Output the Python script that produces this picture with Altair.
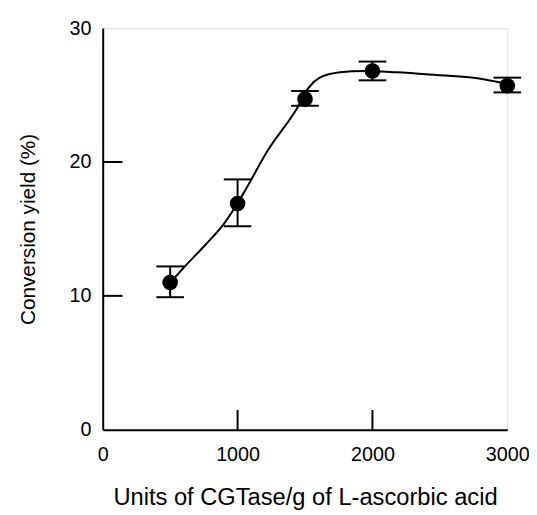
import altair as alt
import pandas as pd

# measured data
units = [500, 1000, 1500, 2000, 3000]
yield_mean = [11.0, 16.9, 24.7, 26.8, 25.7]
yield_low = [9.9, 15.2, 24.2, 26.1, 25.2]
yield_high = [12.2, 18.7, 25.3, 27.5, 26.3]

# fitted curve
curve_x = [520, 600, 760, 900, 1040, 1220, 1440, 1530, 1610, 1760, 1940, 2180, 2480, 2750, 2970]
curve_y = [11.2, 12.1, 13.8, 15.4, 17.6, 20.8, 24.0, 25.6, 26.3, 26.7, 26.8, 26.7, 26.5, 26.3, 25.9]

# inward tick positions
x_ticks = [1000, 2000]
y_ticks = [10, 20]

pts = pd.DataFrame({"u": units, "m": yield_mean, "lo": yield_low, "hi": yield_high})
curve = pd.DataFrame({"u": curve_x, "m": curve_y})
xt = pd.DataFrame({"u": x_ticks})
yt = pd.DataFrame({"m": y_ticks})

FONT = "Liberation Sans"
W, H = 410, 407

xscale = alt.Scale(domain=[0, 3000], nice=False, zero=False)
yscale = alt.Scale(domain=[0, 30], nice=False, zero=False)

xaxis = alt.Axis(values=[0, 1000, 2000, 3000], format="d", title="Units of CGTase/g of L-ascorbic acid",
                 tickSize=0, labelPadding=15, titlePadding=22, labelFontSize=20, titleFontSize=24,
                 labelFont=FONT, titleFont=FONT, labelColor="black", titleColor="black",
                 titleFontWeight="normal", domainColor="black", domainWidth=2, grid=False,
                 labelFlush=False)
yaxis = alt.Axis(values=[0, 10, 20, 30], title="Conversion yield (%)",
                 tickSize=0, labelPadding=12, titlePadding=31, labelFontSize=20, titleFontSize=21,
                 labelFont=FONT, titleFont=FONT, labelColor="black", titleColor="black",
                 titleFontWeight="normal", domainColor="black", domainWidth=2, grid=False,
                 labelFlush=False)

X = alt.X("u:Q", scale=xscale, axis=xaxis)
Y = alt.Y("m:Q", scale=yscale, axis=yaxis)

line = alt.Chart(curve).mark_line(color="black", strokeWidth=2, interpolate="monotone").encode(x=X, y=Y)

bars = alt.Chart(pts).mark_rule(color="black", strokeWidth=2, opacity=1).encode(
    x=alt.X("u:Q", scale=xscale), y=alt.Y("lo:Q", scale=yscale), y2="hi:Q")
cap_lo = alt.Chart(pts).mark_tick(color="black", thickness=2, size=28, orient="horizontal", opacity=1).encode(
    x=alt.X("u:Q", scale=xscale), y=alt.Y("lo:Q", scale=yscale))
cap_hi = alt.Chart(pts).mark_tick(color="black", thickness=2, size=28, orient="horizontal", opacity=1).encode(
    x=alt.X("u:Q", scale=xscale), y=alt.Y("hi:Q", scale=yscale))
dots = alt.Chart(pts).mark_point(filled=True, color="black", size=250, opacity=1, shape="circle").encode(
    x=alt.X("u:Q", scale=xscale), y=alt.Y("m:Q", scale=yscale))

xt_rule = alt.Chart(xt).mark_rule(color="black", strokeWidth=2).encode(
    x=alt.X("u:Q", scale=xscale), y=alt.value(H), y2=alt.value(H - 20))
yt_rule = alt.Chart(yt).mark_rule(color="black", strokeWidth=2).encode(
    y=alt.Y("m:Q", scale=yscale), x=alt.value(0), x2=alt.value(20))

chart = alt.layer(line, bars, cap_lo, cap_hi, dots, xt_rule, yt_rule).properties(
    width=W, height=H,
    autosize=alt.AutoSizeParams(type="none"),
    padding={"left": 96, "top": 17, "right": 22, "bottom": 82},
).configure_view(stroke="black", strokeWidth=2).configure(background="white")

chart.save("out.html", embed_options={"renderer": "svg", "actions": False})
